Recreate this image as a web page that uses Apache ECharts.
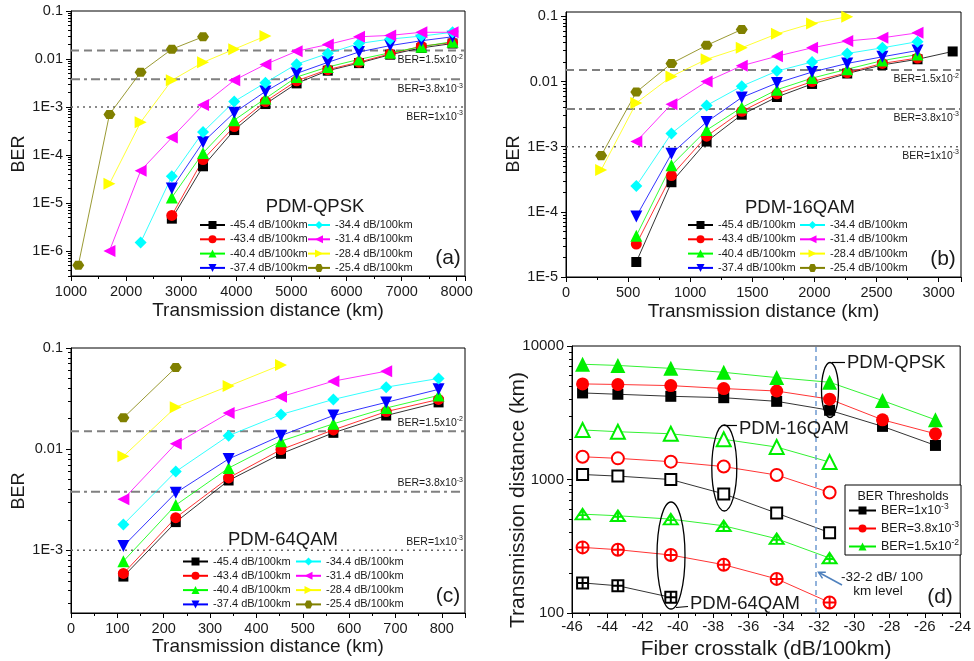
<!DOCTYPE html>
<html>
<head>
<meta charset="utf-8">
<title>BER vs transmission distance</title>
<script src="https://cdn.jsdelivr.net/npm/echarts@6/dist/echarts.min.js"></script>
<style>
  html, body { margin: 0; padding: 0; background: #fff; }
  #chart { width: 974px; height: 661px; }
</style>
</head>
<body>
<div id="chart"></div>
<script>
// crosstalk levels (legend of a, b, c)
const xtalkNames = ['-45.4 dB/100km', '-43.4 dB/100km', '-40.4 dB/100km', '-37.4 dB/100km',
  '-34.4 dB/100km', '-31.4 dB/100km', '-28.4 dB/100km', '-25.4 dB/100km']

// (a) PDM-QPSK, distance in km, one BER row per crosstalk level
const qpskDist = [1132, 1698, 2264, 2830, 3396, 3962, 4528, 5094, 5660, 6226, 6792, 7358, 7924]
const qpskStart = [3, 3, 3, 3, 2, 1, 1, 0] // index of first distance of each row
const qpskBer = [
  [4.7e-6, 5.8e-5, 3.3e-4, 1.15e-3, 3.1e-3, 5.7e-3, 8.2e-3, 0.0123, 0.017, 0.021],
  [5.5e-6, 8e-5, 3.9e-4, 1.3e-3, 3.5e-3, 6e-3, 8.6e-3, 0.0128, 0.0185, 0.022],
  [1.3e-5, 1.1e-4, 5.3e-4, 1.5e-3, 4.2e-3, 6.8e-3, 0.0098, 0.0135, 0.018, 0.023],
  [2e-5, 1.85e-4, 7.6e-4, 2.1e-3, 5e-3, 8.5e-3, 0.014, 0.019, 0.024, 0.029],
  [1.5e-6, 3.6e-5, 3e-4, 1.3e-3, 3.2e-3, 7.8e-3, 0.013, 0.021, 0.026, 0.03, 0.036],
  [1e-6, 4.7e-5, 2.3e-4, 1.1e-3, 3.6e-3, 7.7e-3, 0.0145, 0.02, 0.029, 0.031, 0.036, 0.036],
  [2.5e-5, 4.8e-4, 3.6e-3, 8.5e-3, 0.016, 0.03],
  [5e-7, 7e-4, 5.3e-3, 0.016, 0.029]
]

// (b) PDM-16QAM
const qam16Dist = [283, 566, 849, 1132, 1415, 1698, 1981, 2264, 2547, 2830, 3113]
const qam16Start = [1, 1, 1, 1, 1, 1, 0, 0]
const qam16Ber = [
  [1.7e-5, 2.85e-4, 1.2e-3, 3.1e-3, 5.8e-3, 9.2e-3, 0.0133, 0.018, 0.022, 0.029],
  [3.2e-5, 3.6e-4, 1.45e-3, 3.5e-3, 6.5e-3, 0.01, 0.0137, 0.019, 0.023],
  [4.3e-5, 5.2e-4, 1.8e-3, 4e-3, 7.5e-3, 0.0113, 0.0155, 0.021, 0.026],
  [8.5e-5, 7.8e-4, 2.4e-3, 5.7e-3, 9.5e-3, 0.014, 0.019, 0.024, 0.03],
  [2.5e-4, 1.6e-3, 4.3e-3, 8.5e-3, 0.0145, 0.02, 0.027, 0.033, 0.041],
  [1.2e-3, 4.5e-3, 0.01, 0.0175, 0.0245, 0.033, 0.042, 0.047, 0.056],
  [4.4e-4, 4.7e-3, 0.012, 0.022, 0.033, 0.054, 0.078, 0.099],
  [7.3e-4, 6.9e-3, 0.019, 0.036, 0.063]
]

// (c) PDM-64QAM
const qam64Dist = [113, 226, 340, 453, 566, 680, 793]
const qam64Start = [0, 0, 0, 0, 0, 0, 0, 0]
const qam64Ber = [
  [5.5e-4, 1.9e-3, 4.9e-3, 9e-3, 0.0145, 0.0215, 0.029],
  [5.9e-4, 2.1e-3, 5.2e-3, 9.9e-3, 0.0155, 0.0235, 0.031],
  [7.8e-4, 2.8e-3, 6.5e-3, 0.012, 0.0178, 0.0255, 0.034],
  [1.1e-3, 3.7e-3, 8e-3, 0.0136, 0.0215, 0.029, 0.039],
  [1.8e-3, 6e-3, 0.0136, 0.022, 0.031, 0.041, 0.05],
  [3.2e-3, 0.0113, 0.0228, 0.033, 0.047, 0.059],
  [8.5e-3, 0.026, 0.042, 0.068],
  [0.0204, 0.064]
]

// BER thresholds: 1e-3, 3.8e-3, 1.5e-2
const berThresholds = [0.001, 0.0038, 0.015]
const threshText = ['BER=1x10', 'BER=3.8x10', 'BER=1.5x10']
const threshExp = ['-3', '-3', '-2']
const threshNames = ['BER=1x10-3', 'BER=3.8x10-3', 'BER=1.5x10-2']

// (d) reach (km) vs crosstalk (dB/100km), rows follow the thresholds
const xtalk = [-45.4, -43.4, -40.4, -37.4, -34.4, -31.4, -28.4, -25.4]
const reachQpsk = [
  [4450, 4350, 4200, 4100, 3850, 3300, 2500, 1800],
  [5200, 5150, 5050, 4800, 4600, 4000, 2800, 2200],
  [7300, 7150, 6800, 6350, 5800, 5350, 3900, 2800]
]
const reach16 = [
  [1090, 1060, 1000, 780, 560, 400],
  [1480, 1440, 1360, 1250, 1080, 800],
  [2350, 2280, 2200, 2000, 1750, 1350]
]
const reach64 = [
  [168, 160, 131],
  [310, 298, 272, 230, 180, 120],
  [550, 535, 505, 450, 360, 258]
]
const xtalkLevel = -32.2

const fontFam = '"Liberation Sans", Arial, Helvetica, sans-serif'
const ink = '#1a1a1a'

const lineColors = ['#000000', '#ff0000', '#00ff00', '#0000ff', '#00ffff', '#ff00ff', '#ffff00', '#808000']
const hexagon = 'path://M0,8.66L5,0L15,0L20,8.66L15,17.32L5,17.32Z'
const markers = ['rect', 'circle', 'triangle', 'triangle', 'diamond', 'triangle', 'triangle', hexagon]
const markerRot = [0, 0, 0, 180, 0, 90, -90, 0]
const markerSize = [10, 11, 12, 12, 12, 12, 12, [12, 10.4]]

const dColors = ['#000000', '#ff0000', '#00ee00']
const sqCross = 'path://M0,0L10,0L10,10L0,10Z M5,0L5,10 M0,5L10,5'
const ciCross = 'path://M0,5A5,5 0 1,1 10,5A5,5 0 1,1 0,5Z M5,0L5,10 M0,5L10,5'
const trCross = 'path://M6,0L12,10.4L0,10.4Z M6,0L6,10.4 M2.6,6.2L9.4,6.2'
const threshDash = [[2, 4], [9, 4, 3, 4], [8, 5]]

function supRich(size, supSize, pad) {
  return {
    base: { fontSize: size, color: ink, fontFamily: fontFam },
    sup: { fontSize: supSize, color: ink, fontFamily: fontFam, padding: [0, 0, pad, 0] }
  }
}

function decades(min, max) {
  const out = []
  for (let e = Math.ceil(Math.log10(min) - 1e-9); e <= Math.floor(Math.log10(max) + 1e-9); e++) {
    out.push(Number('1e' + e))
  }
  return out
}

function logMinors(min, max) {
  const out = []
  for (let e = Math.floor(Math.log10(min)); e <= Math.floor(Math.log10(max)); e++) {
    for (let m = 2; m <= 9; m++) {
      const v = Number(m + 'e' + e)
      if (v >= min && v <= max) out.push(v)
    }
  }
  return out
}

function fmtLog(v) {
  const e = Math.round(Math.log10(v))
  if (e >= 2) return String(Math.round(v))
  if (e >= -2) return e === -1 ? '0.1' : '0.01'
  return '1E' + e
}

function distAxis(grid, min, max, step, name, opt) {
  return {
    type: 'value', gridIndex: grid, min: min, max: max, interval: step,
    name: name, nameLocation: 'middle', nameGap: opt.gap,
    nameTextStyle: { fontSize: opt.nameSize, color: ink, fontFamily: fontFam },
    axisLine: { onZero: false, lineStyle: { color: '#000', width: 1 } },
    axisTick: { length: 5, lineStyle: { color: '#000' } },
    minorTick: { show: true, splitNumber: 2, length: 3, lineStyle: { color: '#000' } },
    axisLabel: {
      fontSize: opt.labelSize, color: ink, margin: opt.margin, showMaxLabel: opt.showMax,
      formatter: function (v) { return String(v) }
    },
    splitLine: { show: false }
  }
}

function logAxis(grid, min, max, labelSize) {
  return {
    type: 'log', logBase: 10, gridIndex: grid, min: min, max: max, position: 'left',
    axisLine: { lineStyle: { color: '#000', width: 1 } },
    axisTick: { length: 5, customValues: decades(min, max), lineStyle: { color: '#000' } },
    axisLabel: { customValues: decades(min, max), formatter: fmtLog, fontSize: labelSize, color: ink, margin: 8 },
    splitLine: { show: false }
  }
}

// extra axis on the same grid, only for 2..9 minor ticks of the log scale
function logMinorAxis(grid, min, max) {
  return {
    type: 'log', logBase: 10, gridIndex: grid, min: min, max: max, position: 'left',
    axisLine: { show: false },
    axisTick: { length: 3, customValues: logMinors(min, max), lineStyle: { color: '#000' } },
    axisLabel: { show: false },
    splitLine: { show: false }
  }
}

// horizontal BER threshold lines, drawn as two-point line series across the x range
function thresholdSeries(panel, xmin, xmax, labelDy) {
  return berThresholds.map((v, i) => ({
    name: 'threshold',
    type: 'line',
    xAxisIndex: panel,
    yAxisIndex: panel,
    silent: true,
    z: 1,
    symbol: 'circle',
    symbolSize: 0,
    itemStyle: { color: 'transparent' },
    lineStyle: { color: i === 0 ? '#666' : '#808080', width: i === 0 ? 1.4 : 2, type: threshDash[i] },
    emphasis: { disabled: true },
    data: [
      [xmin, v],
      {
        value: [xmax, v],
        label: {
          show: true, position: 'left', distance: 2, offset: [0, labelDy],
          formatter: '{base|' + threshText[i] + '}{sup|' + threshExp[i] + '}',
          rich: supRich(10.5, 7, 7)
        }
      }
    ]
  }))
}

function berSeries(panel, dist, starts, rows) {
  return rows.map((vals, k) => ({
    name: xtalkNames[k],
    type: 'line',
    xAxisIndex: panel,
    yAxisIndex: panel,
    data: vals.map((v, i) => [dist[starts[k] + i], v]),
    symbol: markers[k],
    symbolSize: markerSize[k],
    symbolRotate: markerRot[k],
    symbolKeepAspect: true,
    lineStyle: { color: lineColors[k], width: 0.8 },
    itemStyle: { color: lineColors[k] },
    emphasis: { disabled: true }
  }))
}

function reachSeries(rows, symbols, sizes, open) {
  return rows.map((vals, k) => ({
    name: threshNames[k],
    type: 'line',
    xAxisIndex: 3,
    yAxisIndex: 3,
    data: vals.map((v, i) => [xtalk[i], v]),
    symbol: symbols[k],
    symbolSize: sizes[k],
    symbolKeepAspect: true,
    lineStyle: { color: dColors[k], width: 0.8 },
    itemStyle: open
      ? { color: '#fff', borderColor: dColors[k], borderWidth: 2 }
      : { color: dColors[k] },
    emphasis: { disabled: true }
  }))
}

function panelLegend(names, left, top, itemWidth) {
  return {
    data: names, orient: 'vertical', left: left, top: top, padding: 0,
    itemGap: 3.3, itemWidth: itemWidth, itemHeight: 10, selectedMode: false,
    textStyle: { fontSize: 11, color: ink, fontFamily: fontFam }
  }
}

function label(text, x, y, size, align) {
  return {
    type: 'text', x: x, y: y, z: 10,
    style: { text: text, fontSize: size, fontFamily: fontFam, fill: ink, align: align || 'center', verticalAlign: 'middle' }
  }
}

function yName(text, x, y, size) {
  const t = label(text, x, y, size)
  t.rotation = Math.PI / 2
  return t
}

const chart = echarts.init(document.getElementById('chart'))

const dSeries = []
  .concat(reachSeries(reachQpsk, ['rect', 'circle', 'triangle'], [11, 13, 15], false))
  .concat(reachSeries(reach16, ['rect', 'circle', 'triangle'], [11, 12, 14], true))
  .concat(reachSeries(reach64, [sqCross, ciCross, trCross], [[11, 11], [12, 12], [14, 12]], true))
dSeries[0].markLine = {
  silent: true, symbol: ['none', 'none'], animation: false, label: { show: false },
  data: [{ xAxis: xtalkLevel }],
  lineStyle: { color: '#6f9bd1', width: 1.5, type: [5, 4] }
}

const option = {
  animation: false,
  backgroundColor: '#fff',
  textStyle: { fontFamily: fontFam, color: ink },
  grid: [
    { left: 71, top: 11, width: 394, height: 265, show: true, borderColor: '#000', borderWidth: 1 },
    { left: 566, top: 12, width: 395, height: 265, show: true, borderColor: '#000', borderWidth: 1 },
    { left: 71, top: 348, width: 394, height: 265, show: true, borderColor: '#000', borderWidth: 1 },
    { left: 572, top: 346, width: 389, height: 267, show: true, borderColor: '#000', borderWidth: 1 }
  ],
  xAxis: [
    distAxis(0, 1000, 8150, 1000, 'Transmission distance (km)', { gap: 25, nameSize: 19, labelSize: 14.5, margin: 8, showMax: false }),
    distAxis(1, 0, 3180, 500, 'Transmission distance (km)', { gap: 25, nameSize: 19, labelSize: 14.5, margin: 8, showMax: false }),
    distAxis(2, 0, 850, 100, 'Transmission distance (km)', { gap: 24, nameSize: 19, labelSize: 14.5, margin: 8, showMax: false }),
    distAxis(3, -46, -24, 2, 'Fiber crosstalk (dB/100km)', { gap: 26, nameSize: 21, labelSize: 15, margin: 6, showMax: true })
  ],
  yAxis: [
    logAxis(0, 3e-7, 0.1, 14.5),
    logAxis(1, 1e-5, 0.117, 14.5),
    logAxis(2, 2.4e-4, 0.1, 14.5),
    logAxis(3, 100, 10000, 15),
    logMinorAxis(0, 3e-7, 0.1),
    logMinorAxis(1, 1e-5, 0.117),
    logMinorAxis(2, 2.4e-4, 0.1),
    logMinorAxis(3, 100, 10000)
  ],
  legend: [
    panelLegend(xtalkNames.slice(0, 4), 199, 219.5, 25),
    panelLegend(xtalkNames.slice(4), 307, 219.5, 22),
    panelLegend(xtalkNames.slice(0, 4), 687, 219.5, 25),
    panelLegend(xtalkNames.slice(4), 799, 219.5, 25),
    panelLegend(xtalkNames.slice(0, 4), 182, 556, 25),
    panelLegend(xtalkNames.slice(4), 295, 556, 25),
    {
      data: threshNames, orient: 'vertical', left: 848, top: 502, padding: 0,
      itemGap: 3, itemWidth: 27, itemHeight: 10, selectedMode: false,
      formatter: function (name) {
        const i = threshNames.indexOf(name)
        return '{base|' + threshText[i] + '}{sup|' + threshExp[i] + '}'
      },
      textStyle: { rich: supRich(12.5, 8.5, 8) }
    }
  ],
  series: []
    .concat(thresholdSeries(0, 1000, 8150, 10))
    .concat(thresholdSeries(1, 0, 3180, 9))
    .concat(thresholdSeries(2, 0, 850, -8.5))
    .concat(berSeries(0, qpskDist, qpskStart, qpskBer))
    .concat(berSeries(1, qam16Dist, qam16Start, qam16Ber))
    .concat(berSeries(2, qam64Dist, qam64Start, qam64Ber))
    .concat(dSeries),
  graphic: [
    yName('BER', 19, 154, 18),
    yName('BER', 514, 154, 18),
    yName('BER', 19, 491, 18),
    yName('Transmission distance (km)', 518, 500, 21),
    label('PDM-QPSK', 315, 207, 18.5),
    label('PDM-16QAM', 800, 208, 18.5),
    label('PDM-64QAM', 283, 540, 18.5),
    label('(a)', 448, 258, 21),
    label('(b)', 943, 259, 21),
    label('(c)', 448, 596, 21),
    label('(d)', 940, 597, 21),
    // legend box of (d)
    { type: 'rect', z: 3, shape: { x: 845, y: 485, width: 116, height: 70 }, style: { fill: '#fff', stroke: '#000', lineWidth: 1 } },
    label('BER Thresholds', 903, 496.5, 12.5),
    // modulation groups in (d)
    { type: 'ellipse', z: 10, shape: { cx: 830, cy: 390, rx: 8.5, ry: 27.5 }, style: { fill: 'none', stroke: '#000', lineWidth: 1.3 } },
    { type: 'ellipse', z: 10, shape: { cx: 724.3, cy: 468, rx: 12.5, ry: 43 }, style: { fill: 'none', stroke: '#000', lineWidth: 1.3 } },
    { type: 'ellipse', z: 10, shape: { cx: 671, cy: 555.5, rx: 14, ry: 53.5 }, style: { fill: 'none', stroke: '#000', lineWidth: 1.3 } },
    { type: 'line', z: 10, shape: { x1: 832, y1: 362.5, x2: 845, y2: 362.5 }, style: { stroke: '#000', lineWidth: 1.2 } },
    { type: 'line', z: 10, shape: { x1: 724, y1: 425.5, x2: 737, y2: 425.5 }, style: { stroke: '#000', lineWidth: 1.2 } },
    { type: 'line', z: 10, shape: { x1: 676, y1: 607.5, x2: 688, y2: 606.5 }, style: { stroke: '#000', lineWidth: 1.2 } },
    label('PDM-QPSK', 847, 363, 18.5, 'left'),
    label('PDM-16QAM', 739, 429, 18.5, 'left'),
    label('PDM-64QAM', 690, 604, 18.5, 'left'),
    // pointer to the -32.2 dB/100km level
    { type: 'line', z: 10, shape: { x1: 842, y1: 585, x2: 819, y2: 572.5 }, style: { stroke: '#4f81bd', lineWidth: 1.5 } },
    { type: 'polyline', z: 10, shape: { points: [[825.8, 572.2], [818.5, 572.3], [822.5, 578.4]] }, style: { fill: 'none', stroke: '#4f81bd', lineWidth: 1.5 } },
    label('-32-2 dB/ 100', 882, 577, 13.5),
    label('km level', 878, 591, 13.5)
  ]
}

chart.setOption(option)
</script>
</body>
</html>
